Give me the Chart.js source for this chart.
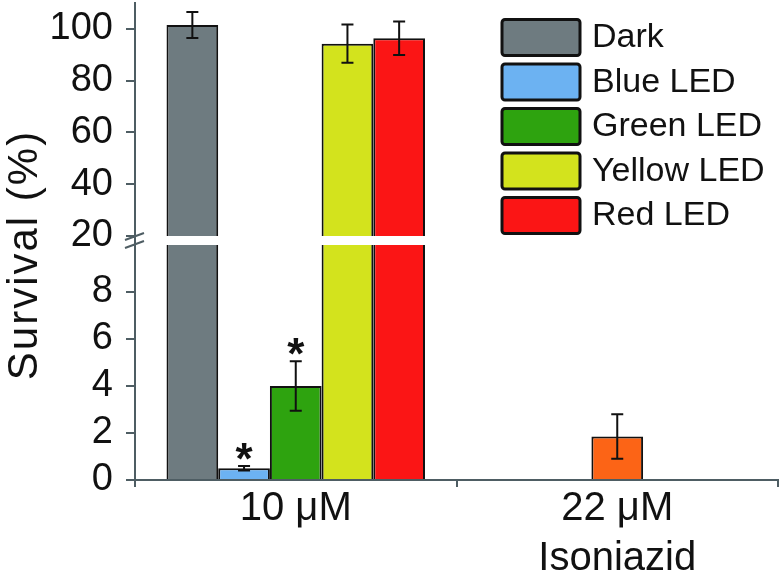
<!DOCTYPE html>
<html>
<head>
<meta charset="utf-8">
<script src="https://cdn.jsdelivr.net/npm/chart.js@4.4.0/dist/chart.umd.min.js"></script>
<style>
  body { margin: 0; background: #fff; }
  .wrap { position: relative; width: 784px; height: 577px; }
  .wrap canvas { position: absolute; left: 0; top: 0; }
</style>
</head>
<body>
<div class="wrap">
  <canvas id="lowChart" width="784" height="577"></canvas>
  <canvas id="highChart" width="784" height="577"></canvas>
</div>
<script>
// values
const categories = ['10 μM', ['22 μM', 'Isoniazid']];
const seriesNames = ['Dark', 'Blue LED', 'Green LED', 'Yellow LED', 'Red LED'];
const seriesColors = ['#6e7b80', '#6cb2f2', '#2ea30f', '#d3e31d', '#fb1515'];
const survival10uM = [101.5, 0.5, 4.0, 94.3, 96.4];
const error10uM = [5.0, 0.1, 1.05, 7.4, 6.5];
const significant10uM = [false, true, true, false, false];
const isoniazidSurvival = 1.85;
const isoniazidError = 0.95;
const isoniazidColor = '#fc6416';
const lowTicks = [0, 2, 4, 6, 8];
const highTicks = [20, 40, 60, 80, 100];

const axisColor = '#4e5d63';
const font = 'Arial, "Liberation Sans", sans-serif';

function buildDatasets() {
  const sets = seriesNames.map((name, i) => ({
    label: name,
    data: [survival10uM[i], null],
    errors: [error10uM[i], null],
    stars: [significant10uM[i], false],
    backgroundColor: seriesColors[i],
    borderColor: '#111',
    borderWidth: 2,
    categoryPercentage: 0.804,
    barPercentage: 1,
    clip: 0
  }));
  sets.push({
    label: 'Isoniazid',
    data: [null, isoniazidSurvival],
    errors: [null, isoniazidError],
    stars: [false, false],
    backgroundColor: isoniazidColor,
    borderColor: '#111',
    borderWidth: 2,
    grouped: false,
    categoryPercentage: 0.804,
    barPercentage: 0.2,
    clip: 0
  });
  return sets;
}

// error bars + asterisks, clipped to this chart's plot area
const errorBars = {
  id: 'errorBars',
  afterDatasetsDraw(chart) {
    const {ctx, chartArea} = chart;
    const y = chart.scales.y;
    ctx.save();
    ctx.beginPath();
    ctx.rect(chartArea.left, chartArea.top, chartArea.right - chartArea.left, chartArea.bottom - chartArea.top);
    ctx.clip();
    ctx.strokeStyle = '#111';
    ctx.lineWidth = 2;
    chart.data.datasets.forEach((ds, i) => {
      const meta = chart.getDatasetMeta(i);
      meta.data.forEach((bar, j) => {
        const v = ds.data[j], e = ds.errors[j];
        if (v == null || e == null) return;
        const top = y.getPixelForValue(v + e);
        const bot = y.getPixelForValue(v - e);
        ctx.beginPath();
        ctx.moveTo(bar.x, top); ctx.lineTo(bar.x, bot);
        ctx.moveTo(bar.x - 6, top); ctx.lineTo(bar.x + 6, top);
        ctx.moveTo(bar.x - 6, bot); ctx.lineTo(bar.x + 6, bot);
        ctx.stroke();
        if (ds.stars[j]) {
          ctx.fillStyle = '#111';
          ctx.font = 'bold 44px ' + font;
          ctx.textAlign = 'center';
          ctx.textBaseline = 'alphabetic';
          ctx.fillText('*', bar.x, top + 8);
        }
      });
    });
    ctx.restore();
  }
};

const legendBoxes = {
  id: 'legendBoxes',
  afterDraw(chart) {
    const ctx = chart.ctx;
    ctx.save();
    seriesNames.forEach((name, i) => {
      const top = 18 + i * 44.5;
      ctx.beginPath();
      ctx.roundRect(502, top + 1.5, 78, 36, 3);
      ctx.fillStyle = seriesColors[i];
      ctx.fill();
      ctx.lineWidth = 3;
      ctx.strokeStyle = '#111';
      ctx.stroke();
      ctx.fillStyle = '#111';
      ctx.font = '34px ' + font;
      ctx.textAlign = 'left';
      ctx.textBaseline = 'middle';
      ctx.fillText(name, 592, top + 20);
    });
    ctx.restore();
  }
};

const axisExtras = {
  id: 'axisExtras',
  afterDraw(chart) {
    const ctx = chart.ctx;
    const x0 = chart.chartArea.left;
    ctx.save();
    // axis through the break, and the break marks
    ctx.strokeStyle = axisColor;
    ctx.lineWidth = 2;
    ctx.beginPath();
    ctx.moveTo(x0, 230); ctx.lineTo(x0, 250);
    ctx.moveTo(x0 - 10, 240); ctx.lineTo(x0 + 9, 233);
    ctx.moveTo(x0 - 10, 248); ctx.lineTo(x0 + 9, 241);
    ctx.stroke();
    // y title across both panels
    ctx.translate(37, 255);
    ctx.rotate(-Math.PI / 2);
    ctx.fillStyle = '#111';
    ctx.font = '42px ' + font;
    ctx.letterSpacing = '2px';
    ctx.textAlign = 'center';
    ctx.textBaseline = 'alphabetic';
    ctx.fillText('Survival (%)', 0, 0);
    ctx.restore();
  }
};

function yScale(min, max, tickValues) {
  return {
    min: min,
    max: max,
    afterBuildTicks(scale) {
      scale.ticks = tickValues.map(v => ({value: v}));
    },
    afterFit(scale) {
      scale.width = 135;
      scale.paddingTop = 0;
      scale.paddingBottom = 0;
    },
    ticks: {
      color: '#111',
      padding: 13,
      font: {family: font, size: 38}
    },
    grid: {
      drawOnChartArea: false,
      tickLength: 9,
      color: axisColor,
      lineWidth: 2
    },
    border: {color: axisColor, width: 2}
  };
}

const common = {
  responsive: false,
  animation: false,
  plugins: {legend: {display: false}, tooltip: {enabled: false}}
};

new Chart(document.getElementById('lowChart'), {
  type: 'bar',
  data: {labels: categories, datasets: buildDatasets()},
  options: Object.assign({}, common, {
    layout: {padding: {top: 245, right: 6, left: 0, bottom: 0}},
    scales: {
      x: {
        afterFit(scale) {
          scale.height = 97;
          scale.paddingLeft = 0;
          scale.paddingRight = 0;
        },
        ticks: {
          color: '#111',
          padding: -3,
          maxRotation: 0,
          font: {family: font, size: 40, lineHeight: 1.25}
        },
        grid: {
          drawOnChartArea: false,
          tickLength: 7,
          color: axisColor,
          lineWidth: 2
        },
        border: {color: axisColor, width: 2}
      },
      y: yScale(0, 10, lowTicks)
    }
  }),
  plugins: [errorBars, axisExtras]
});

new Chart(document.getElementById('highChart'), {
  type: 'bar',
  data: {labels: categories, datasets: buildDatasets()},
  options: Object.assign({}, common, {
    layout: {padding: {top: 3, right: 6, left: 0, bottom: 341}},
    scales: {
      x: {display: false},
      y: yScale(20, 110, highTicks)
    }
  }),
  plugins: [errorBars, legendBoxes]
});
</script>
</body>
</html>
